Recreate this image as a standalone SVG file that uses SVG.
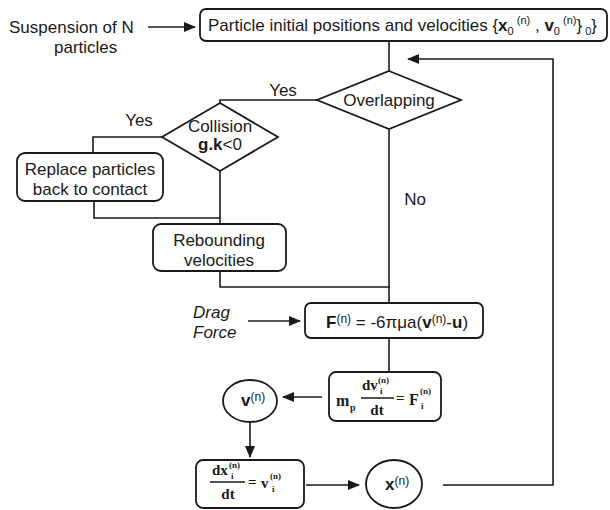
<svg xmlns="http://www.w3.org/2000/svg" width="610" height="510" viewBox="0 0 610 510">
<defs>
<marker id="ah" markerWidth="12" markerHeight="10" refX="11" refY="5" orient="auto" markerUnits="userSpaceOnUse">
<path d="M0,0 L12,5 L0,10 Z" fill="#1a1a1a"/>
</marker>
<style>
.box{fill:#fff;stroke:#1a1a1a;stroke-width:1.8}
.ln{fill:none;stroke:#1a1a1a;stroke-width:1.6}
.t{font-family:"Liberation Sans",Arial,sans-serif;font-size:17px;fill:#1a1a1a}
.m{font-family:"Liberation Serif","Times New Roman",serif;font-weight:bold;fill:#1a1a1a}
.b{font-weight:bold}
</style>
</defs>
<rect width="610" height="510" fill="#fff"/>

<g id="connectors">
<line class="ln" x1="148" y1="27" x2="195" y2="27" marker-end="url(#ah)"/>
<line class="ln" x1="389" y1="41" x2="389" y2="71"/>
<polyline class="ln" points="317,100 220,100 220,103"/>
<polyline class="ln" points="162,137 93,137 93,153"/>
<polyline class="ln" points="94,201 94,218 220,218"/>
<line class="ln" x1="220" y1="171" x2="220" y2="224"/>
<polyline class="ln" points="220,271 220,287 390,287"/>
<line class="ln" x1="389" y1="129" x2="389" y2="303"/>
<line class="ln" x1="248" y1="321" x2="300" y2="321" marker-end="url(#ah)"/>
<line class="ln" x1="389" y1="338" x2="389" y2="372"/>
<line class="ln" x1="322" y1="397" x2="283" y2="397" marker-end="url(#ah)"/>
<line class="ln" x1="250" y1="422" x2="250" y2="457" marker-end="url(#ah)"/>
<line class="ln" x1="306" y1="485" x2="359" y2="485" marker-end="url(#ah)"/>
<polyline class="ln" points="443,485 553,485 553,59 408,59" marker-end="url(#ah)"/>
</g>

<g id="suspension">
<text class="t" x="9" y="33">Suspension of N</text>
<text class="t" x="54" y="53">particles</text>
</g>

<g id="initial">
<rect class="box" x="200" y="9" width="407" height="32" rx="6"/>
<text class="t" x="208" y="31">Particle initial positions and velocities {<tspan class="b">x</tspan><tspan font-size="11" dy="4">0</tspan><tspan font-size="11" dy="-11"> (n)</tspan><tspan dy="7"> , </tspan><tspan class="b">v</tspan><tspan font-size="11" dy="4">0</tspan><tspan font-size="11" dy="-11"> (n)</tspan><tspan dy="7">}</tspan><tspan font-size="11" dy="4"> 0</tspan><tspan dy="-4">}</tspan></text>
</g>

<g id="overlapping">
<polygon class="box" points="389,71 461,100 389,129 317,100"/>
<text class="t" x="389" y="106" text-anchor="middle">Overlapping</text>
</g>
<text class="t" x="283" y="96" text-anchor="middle">Yes</text>
<text class="t" x="139" y="126" text-anchor="middle">Yes</text>
<text class="t" x="415" y="205" text-anchor="middle">No</text>

<g id="collision">
<polygon class="box" points="220,103 278,137 220,171 162,137"/>
<text class="t" x="220" y="132" text-anchor="middle">Collision</text>
<text class="t" x="220" y="150" text-anchor="middle"><tspan class="b">g.k</tspan>&lt;0</text>
</g>

<g id="replace">
<rect class="box" x="17" y="153" width="146" height="48" rx="8"/>
<text class="t" x="90" y="175" text-anchor="middle">Replace particles</text>
<text class="t" x="90" y="195" text-anchor="middle">back to contact</text>
</g>

<g id="rebounding">
<rect class="box" x="153" y="224" width="133" height="47" rx="8"/>
<text class="t" x="219" y="246" text-anchor="middle">Rebounding</text>
<text class="t" x="219" y="266" text-anchor="middle">velocities</text>
</g>

<g id="drag">
<text class="t" x="193" y="318" font-style="italic">Drag</text>
<text class="t" x="193" y="338" font-style="italic">Force</text>
</g>

<g id="force">
<rect class="box" x="305" y="303" width="178" height="35" rx="6"/>
<text class="t" x="326" y="328"><tspan class="b">F</tspan><tspan font-size="12" dy="-5">(n)</tspan><tspan dy="5"> = -6πμa(</tspan><tspan class="b">v</tspan><tspan font-size="12" dy="-5">(n)</tspan><tspan dy="5">-</tspan><tspan class="b">u</tspan>)</text>
</g>

<g id="momentum">
<rect class="box" x="329" y="372" width="112" height="49" rx="7"/>
<text class="m" x="336" y="406" font-size="16">m</text>
<text class="m" x="350" y="411" font-size="10">p</text>
<text class="m" x="362" y="390" font-size="15">dv</text>
<text class="m" x="378" y="383" font-size="9">(n)</text>
<text class="m" x="380" y="394" font-size="9">i</text>
<line class="ln" x1="361" y1="398" x2="394" y2="398" stroke-width="1.2"/>
<text class="m" x="377" y="415" font-size="15" text-anchor="middle">dt</text>
<text class="m" x="396" y="403" font-size="15">=</text>
<text class="m" x="409" y="405" font-size="16">F</text>
<text class="m" x="420" y="394" font-size="9">(n)</text>
<text class="m" x="421" y="409" font-size="9">i</text>
</g>

<g id="v">
<ellipse class="box" cx="250" cy="401" rx="27" ry="21"/>
<text class="t" x="241" y="406"><tspan class="b">v</tspan><tspan font-size="12" dy="-5">(n)</tspan></text>
</g>

<g id="position">
<rect class="box" x="196" y="460" width="108" height="48" rx="7"/>
<text class="m" x="212" y="475" font-size="15">dx</text>
<text class="m" x="229" y="468" font-size="9">(n)</text>
<text class="m" x="231" y="479" font-size="9">i</text>
<line class="ln" x1="210" y1="482" x2="245" y2="482" stroke-width="1.2"/>
<text class="m" x="228" y="499" font-size="15" text-anchor="middle">dt</text>
<text class="m" x="248" y="487" font-size="15">=</text>
<text class="m" x="261" y="488" font-size="15">v</text>
<text class="m" x="270" y="479" font-size="9">(n)</text>
<text class="m" x="272" y="492" font-size="9">i</text>
</g>

<g id="x">
<ellipse class="box" cx="394" cy="484" rx="28" ry="24"/>
<text class="t" x="385" y="490"><tspan class="b">x</tspan><tspan font-size="12" dy="-5">(n)</tspan></text>
</g>
</svg>
